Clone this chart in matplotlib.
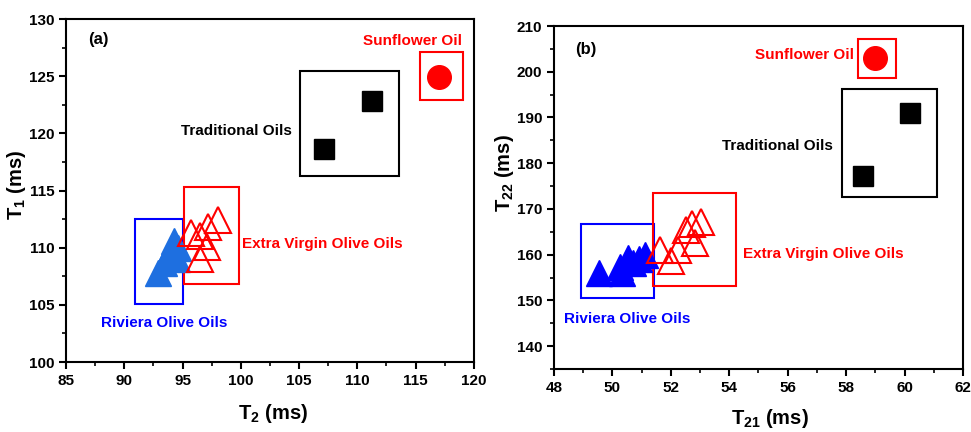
import matplotlib.pyplot as plt
from matplotlib.patches import Rectangle
from matplotlib.ticker import AutoMinorLocator, MultipleLocator

plt.rcParams["font.family"] = ["Liberation Sans", "DejaVu Sans"]
plt.rcParams["font.weight"] = "bold"
plt.rcParams["mathtext.fontset"] = "custom"
plt.rcParams["mathtext.rm"] = "Liberation Sans:bold"
plt.rcParams["mathtext.bf"] = "Liberation Sans:bold"

# panel (a): T2 vs T1
a_riviera_x = [92.9, 93.4, 93.9, 94.3, 94.6, 94.5]
a_riviera_y = [107.8, 108.7, 109.7, 110.6, 110.0, 109.0]
a_evoo_x = [95.7, 96.5, 97.2, 98.0, 97.1, 96.5]
a_evoo_y = [111.3, 111.0, 111.8, 112.4, 110.1, 109.0]
a_trad_x = [107.1, 111.3]
a_trad_y = [118.6, 122.8]
a_sun_x = [117.0]
a_sun_y = [124.9]
# group boxes: (x0, x1, y0, y1)
a_box_riviera = (90.95, 95.05, 105.1, 112.5)
a_box_evoo = (95.1, 99.85, 106.8, 115.3)
a_box_trad = (105.1, 113.6, 116.3, 125.45)
a_box_sun = (115.4, 119.05, 122.9, 127.1)

# panel (b): T21 vs T22
b_riviera_x = [49.53, 50.26, 50.32, 50.52, 50.72, 51.12, 50.9]
b_riviera_y = [156.1, 157.2, 155.9, 159.3, 158.2, 160.0, 159.0]
b_evoo_x = [51.64, 52.01, 52.23, 52.53, 52.74, 53.03, 52.83]
b_evoo_y = [161.1, 158.7, 161.0, 165.5, 166.6, 167.2, 162.6]
b_trad_x = [58.59, 60.19]
b_trad_y = [177.1, 191.0]
b_sun_x = [59.0]
b_sun_y = [203.0]
b_box_riviera = (48.94, 51.43, 150.5, 166.8)
b_box_evoo = (51.38, 54.24, 153.2, 173.4)
b_box_trad = (57.87, 61.12, 172.7, 196.3)
b_box_sun = (58.42, 59.71, 198.7, 207.1)

RED = "#ff0000"
BLUE = "#0000ff"


def add_box(ax, box, color):
    x0, x1, y0, y1 = box
    ax.add_patch(Rectangle((x0, y0), x1 - x0, y1 - y0, fill=False,
                           edgecolor=color, linewidth=1.5, zorder=2))


def style_axes(ax):
    for sp in ax.spines.values():
        sp.set_linewidth(1.5)
    ax.xaxis.set_minor_locator(AutoMinorLocator(2))
    ax.yaxis.set_minor_locator(AutoMinorLocator(2))
    ax.tick_params(which="major", direction="out", length=5, width=1.5,
                   labelsize=11, top=False, right=False)
    ax.tick_params(which="minor", direction="out", length=3, width=1.2,
                   top=False, right=False)
    for lab in ax.get_xticklabels() + ax.get_yticklabels():
        lab.set_fontweight("bold")


fig = plt.figure(figsize=(9.71, 4.32), dpi=100)

# ---- panel (a)
ax = fig.add_axes([0.068, 0.162, 0.420, 0.794])
ax.plot(a_riviera_x, a_riviera_y, "^", ms=19, color="#1e6fe0", mec="#1e6fe0", zorder=3)
ax.plot(a_evoo_x, a_evoo_y, "^", ms=19, mfc="none", mec=RED, mew=1.5, zorder=4)
ax.plot(a_trad_x, a_trad_y, "s", ms=14.5, color="black", zorder=3)
ax.plot(a_sun_x, a_sun_y, "o", ms=17, color=RED, zorder=3)
add_box(ax, a_box_riviera, BLUE)
add_box(ax, a_box_evoo, RED)
add_box(ax, a_box_trad, "black")
add_box(ax, a_box_sun, RED)
ax.text(86.9, 128.2, "(a)", fontsize=12, fontweight="bold", va="center")
ax.text(119.0, 128.1, "Sunflower Oil", color=RED, fontsize=11, fontweight="bold",
        ha="right", va="center")
ax.text(104.35, 120.2, "Traditional Oils", color="black", fontsize=11,
        fontweight="bold", ha="right", va="center")
ax.text(100.06, 110.3, "Extra Virgin Olive Oils", color=RED, fontsize=11,
        fontweight="bold", ha="left", va="center")
ax.text(88.0, 103.4, "Riviera Olive Oils", color=BLUE, fontsize=11,
        fontweight="bold", ha="left", va="center")
ax.set_xlim(85, 120)
ax.set_ylim(100, 130)
ax.xaxis.set_major_locator(MultipleLocator(5))
ax.yaxis.set_major_locator(MultipleLocator(5))
ax.set_xlabel(r"T$_{2}$ (ms)", fontsize=14.5, fontweight="bold", va="center")
ax.set_ylabel(r"T$_{1}$ (ms)", fontsize=14.5, fontweight="bold", va="center")
ax.xaxis.set_label_coords(0.507, -0.149)
ax.yaxis.set_label_coords(-0.122, 0.516)
style_axes(ax)

# ---- panel (b)
bx = fig.add_axes([0.5705, 0.1458, 0.4213, 0.794])
bx.plot(b_riviera_x, b_riviera_y, "^", ms=19, color=BLUE, mec=BLUE, zorder=3)
bx.plot(b_evoo_x, b_evoo_y, "^", ms=19, mfc="none", mec=RED, mew=1.5, zorder=4)
bx.plot(b_trad_x, b_trad_y, "s", ms=14.5, color="black", zorder=3)
bx.plot(b_sun_x, b_sun_y, "o", ms=17, color=RED, zorder=3)
add_box(bx, b_box_riviera, BLUE)
add_box(bx, b_box_evoo, RED)
add_box(bx, b_box_trad, "black")
add_box(bx, b_box_sun, RED)
bx.text(48.72, 204.9, "(b)", fontsize=12, fontweight="bold", va="center")
bx.text(58.27, 203.7, "Sunflower Oil", color=RED, fontsize=11, fontweight="bold",
        ha="right", va="center")
bx.text(57.54, 183.8, "Traditional Oils", color="black", fontsize=11,
        fontweight="bold", ha="right", va="center")
bx.text(54.48, 160.1, "Extra Virgin Olive Oils", color=RED, fontsize=11,
        fontweight="bold", ha="left", va="center")
bx.text(48.35, 145.9, "Riviera Olive Oils", color=BLUE, fontsize=11,
        fontweight="bold", ha="left", va="center")
bx.set_xlim(48, 62)
bx.set_ylim(135, 210)
bx.xaxis.set_major_locator(MultipleLocator(2))
bx.yaxis.set_major_locator(MultipleLocator(10))
bx.set_xlabel(r"T$_{21}$ (ms)", fontsize=14.5, fontweight="bold", va="center")
bx.set_ylabel(r"T$_{22}$ (ms)", fontsize=14.5, fontweight="bold", va="center")
bx.xaxis.set_label_coords(0.528, -0.143)
bx.yaxis.set_label_coords(-0.122, 0.571)
style_axes(bx)

fig.savefig("out.png", dpi=100)
